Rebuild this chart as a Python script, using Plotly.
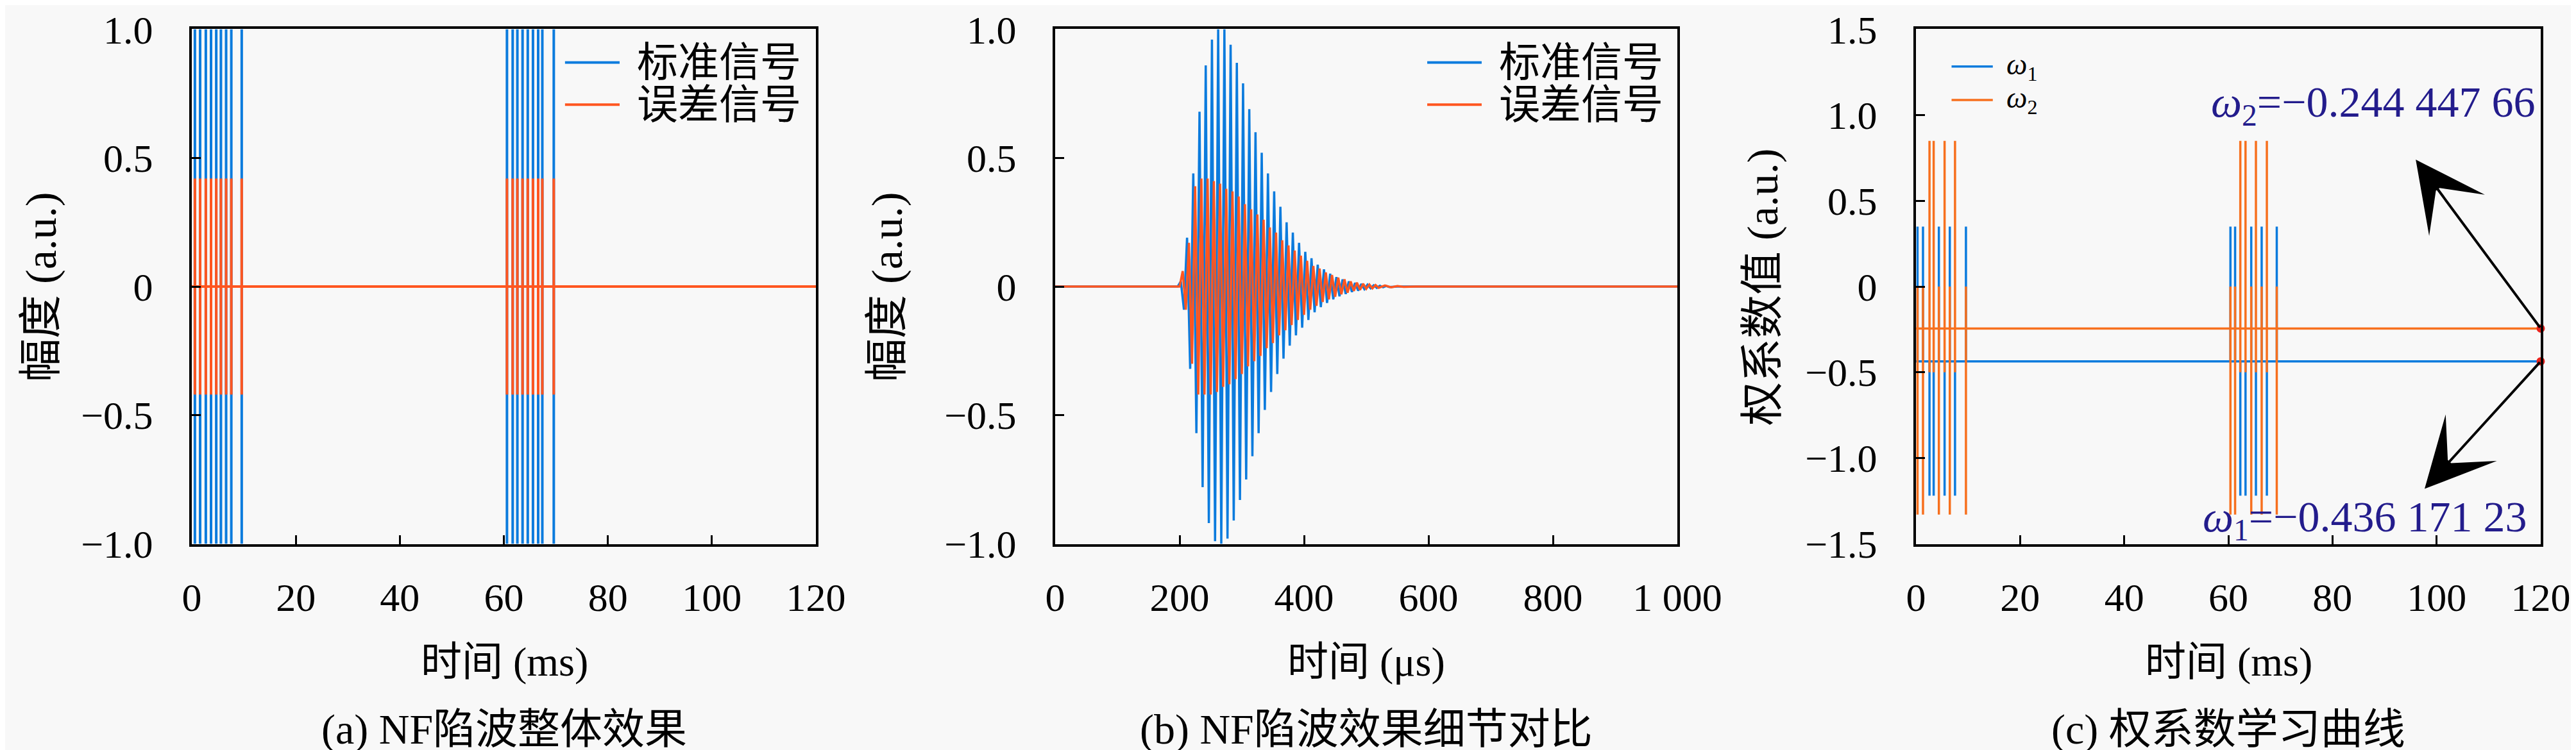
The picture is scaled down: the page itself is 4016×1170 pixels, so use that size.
import plotly.graph_objects as go

FONT = "'Liberation Serif', 'Noto Sans CJK SC', serif"
BLUE = "#0B7BDD"
ORANGE = "#FF5620"
ORANGE_C = "#F7701E"
NAVY = "#231C8C"
BG = "#F8F8F8"
W, H = 4016, 1170

# ---------------- (a) NF陷波整体效果: 回波时刻 (ms) 与幅值 ----------------
a_echo_times = [0.6, 1.6, 2.7, 3.7, 4.7, 5.6, 6.6, 7.6, 9.6,
                60.6, 61.7, 62.6, 63.6, 64.6, 65.6, 66.6, 67.4, 69.6]
a_std_amp = [1.0, 1.0, 1.0, 1.0, 1.0, 1.0, 1.0, 1.0, 1.0,
             1.0, 1.0, 1.0, 1.0, 1.0, 1.0, 1.0, 1.0, 1.0]
a_err_amp = [0.42, 0.42, 0.42, 0.42, 0.42, 0.42, 0.42, 0.42, 0.42,
             0.42, 0.42, 0.42, 0.42, 0.42, 0.42, 0.42, 0.42, 0.42]
a_t_end = 120

# ---------------- (b) 细节对比: 振荡极值点 (μs) ----------------
b_std_t = [0, 197, 202, 207, 212, 217, 222, 227, 232, 237, 242, 247, 252, 257,
           262, 267, 272, 277, 282, 287, 292, 297, 302, 307, 312, 317, 322, 327,
           332, 337, 342, 347, 352, 357, 362, 367, 372, 377, 382, 387, 392, 397,
           402, 407, 412, 417, 422, 427, 432, 437, 442, 447, 452, 457, 462, 467,
           472, 477, 482, 487, 492, 497, 502, 507, 512, 517, 522, 527, 532, 537,
           550, 1000]
b_std_v = [0, 0, 0.02, -0.09, 0.19, -0.32, 0.44, -0.57, 0.68, -0.78, 0.86, -0.92,
           0.96, -0.99, 1.00, -1.00, 1.00, -0.98, 0.94, -0.91, 0.87, -0.83, 0.79,
           -0.75, 0.69, -0.66, 0.60, -0.57, 0.52, -0.48, 0.44, -0.41, 0.37, -0.34,
           0.31, -0.28, 0.25, -0.23, 0.21, -0.19, 0.17, -0.16, 0.135, -0.13, 0.11,
           -0.10, 0.085, -0.08, 0.067, -0.064, 0.05, -0.05, 0.037, -0.038, 0.028,
           -0.029, 0.02, -0.021, 0.014, -0.016, 0.01, -0.01, 0.007, -0.007, 0.005,
           -0.005, 0.003, -0.003, 0.002, -0.002, 0, 0]
b_err_t = [0, 200, 205, 210, 215, 220, 225, 230, 235, 240, 245, 250, 255, 260,
           265, 270, 275, 280, 285, 290, 295, 300, 305, 310, 315, 320, 325, 330,
           335, 340, 345, 350, 355, 360, 365, 370, 375, 380, 385, 390, 395, 400,
           405, 410, 415, 420, 425, 430, 435, 440, 445, 450, 455, 460, 465, 470,
           475, 480, 485, 490, 495, 500, 505, 510, 515, 520, 530, 540, 550, 560,
           580, 1000]
b_err_v = [0, 0, 0.06, -0.09, 0.17, -0.30, 0.39, -0.42, 0.42, -0.42, 0.42, -0.42,
           0.41, -0.41, 0.40, -0.39, 0.38, -0.38, 0.37, -0.36, 0.35, -0.34, 0.32,
           -0.31, 0.30, -0.29, 0.28, -0.27, 0.26, -0.24, 0.23, -0.22, 0.21, -0.19,
           0.18, -0.17, 0.16, -0.15, 0.14, -0.13, 0.12, -0.11, 0.10, -0.09, 0.08,
           -0.075, 0.07, -0.06, 0.055, -0.05, 0.045, -0.04, 0.035, -0.03, 0.028,
           -0.024, 0.02, -0.017, 0.015, -0.013, 0.011, -0.009, 0.008, -0.007,
           0.006, -0.005, 0.004, -0.003, 0.002, -0.001, 0, 0]

# ---------------- (c) 权系数学习曲线 ----------------
c_event_t = [0.3, 1.35, 2.6, 3.4, 4.4, 5.5, 6.5, 7.5, 9.6,
             60.4, 61.3, 62.3, 63.3, 64.4, 65.3, 66.4, 67.4, 69.3]
c_w1_peak = [0.35, 0.35, -1.22, -1.22, 0.35, -1.22, 0.35, -1.22, 0.35,
             0.35, 0.35, -1.22, -1.22, 0.35, -1.22, 0.35, -1.22, 0.35]
c_w2_up = [0.0, 0.0, 0.85, 0.85, 0.0, 0.85, 0.0, 0.85, 0.0,
           0.0, 0.0, 0.85, 0.85, 0.0, 0.85, 0.0, 0.85, 0.0]
c_w2_down = [-1.33, -1.33, -0.50, -0.50, -1.33, -0.50, -1.33, -0.50, -1.33,
             -1.33, -1.33, -0.50, -0.50, -1.33, -0.50, -1.33, -0.50, -1.33]
w1_final = -0.43617123
w2_final = -0.24444766
c_t_end = 120


def echo_path(times, amps):
    xs, ys = [0], [0]
    for t, amp in zip(times, amps):
        xs += [t, t, t, t]
        ys += [0, amp, -amp, 0]
    xs.append(a_t_end)
    ys.append(0)
    return xs, ys


fig = go.Figure()

# (a)
xs, ys = echo_path(a_echo_times, a_std_amp)
fig.add_trace(go.Scatter(x=xs, y=ys, mode="lines", line=dict(color=BLUE, width=4),
                         xaxis="x", yaxis="y", showlegend=False))
xs, ys = echo_path(a_echo_times, a_err_amp)
fig.add_trace(go.Scatter(x=xs, y=ys, mode="lines", line=dict(color=ORANGE, width=4),
                         xaxis="x", yaxis="y", showlegend=False))

# (b)
fig.add_trace(go.Scatter(x=b_std_t, y=b_std_v, mode="lines", line=dict(color=BLUE, width=3.5),
                         xaxis="x2", yaxis="y2", showlegend=False))
fig.add_trace(go.Scatter(x=b_err_t, y=b_err_v, mode="lines", line=dict(color=ORANGE, width=3.5),
                         xaxis="x2", yaxis="y2", showlegend=False))

# (c)
w1x, w1y = [0], [w1_final]
w2x, w2y = [0], [w2_final]
for t, p, up, dn in zip(c_event_t, c_w1_peak, c_w2_up, c_w2_down):
    w1x += [t, t, t]
    w1y += [w1_final, p, w1_final]
    w2x += [t, t, t, t]
    w2y += [w2_final, up, dn, w2_final]
w1x.append(c_t_end)
w1y.append(w1_final)
w2x.append(c_t_end)
w2y.append(w2_final)
fig.add_trace(go.Scatter(x=w1x, y=w1y, mode="lines", line=dict(color=BLUE, width=3.5),
                         xaxis="x3", yaxis="y3", showlegend=False))
fig.add_trace(go.Scatter(x=w2x, y=w2y, mode="lines", line=dict(color=ORANGE_C, width=3.5),
                         xaxis="x3", yaxis="y3", showlegend=False))
fig.add_trace(go.Scatter(x=[c_t_end, c_t_end], y=[w2_final, w1_final], mode="markers",
                         marker=dict(color="#E8231E", size=13), cliponaxis=False,
                         xaxis="x3", yaxis="y3", showlegend=False))

# 坐标轴
ydom = [1 - 841 / H, 1 - 37 / H]
axis_common = dict(
    showline=True, linewidth=4, linecolor="black", mirror=True,
    ticks="inside", ticklen=14, tickwidth=3, tickcolor="black",
    showgrid=False, zeroline=False, ticklabeloverflow="allow", automargin=False,
    tickfont=dict(size=62, family=FONT, color="black"),
)
xa_ticks = [0, 20, 40, 60, 80, 100, 120]
xa_text = ["0", "20", "40", "60", "80", "100", "120"]
xb_ticks = [0, 200, 400, 600, 800, 1000]
xb_text = ["0", "200", "400", "600", "800", "1 000"]
yab_ticks = [-1.0, -0.5, 0, 0.5, 1.0]
yab_text = ["−1.0", "−0.5", "0", "0.5", "1.0"]
yc_ticks = [-1.5, -1.0, -0.5, 0, 0.5, 1.0, 1.5]
yc_text = ["−1.5", "−1.0", "−0.5", "0", "0.5", "1.0", "1.5"]

fig.update_layout(
    width=W, height=H,
    margin=dict(l=0, r=0, t=0, b=0, autoexpand=False),
    paper_bgcolor=BG, plot_bgcolor=BG,
    font=dict(family=FONT, size=60, color="black"),
    xaxis=dict(axis_common, domain=[291 / W, 1264 / W], range=[0, 120],
               tickvals=xa_ticks, ticktext=xa_text, anchor="y", ticklabelstandoff=26),
    yaxis=dict(axis_common, domain=ydom, range=[-1.002, 1.002],
               tickvals=yab_ticks, ticktext=yab_text, anchor="x", ticklabelstandoff=44),
    xaxis2=dict(axis_common, domain=[1637 / W, 2607 / W], range=[0, 1000],
                tickvals=xb_ticks, ticktext=xb_text, anchor="y2", ticklabelstandoff=26),
    yaxis2=dict(axis_common, domain=ydom, range=[-1.002, 1.002],
                tickvals=yab_ticks, ticktext=yab_text, anchor="x2", ticklabelstandoff=44),
    xaxis3=dict(axis_common, domain=[2979 / W, 3953 / W], range=[0, 120],
                tickvals=xa_ticks, ticktext=xa_text, anchor="y3", ticklabelstandoff=26),
    yaxis3=dict(axis_common, domain=ydom, range=[-1.503, 1.503],
                tickvals=yc_ticks, ticktext=yc_text, anchor="x3", ticklabelstandoff=44),
)

annotations = []
shapes = []

# 轴标题与子图标题
panel_info = [
    (778 / W, 56 / W, "时间 (ms)", "幅度 (a.u.)", "(a) NF陷波整体效果"),
    (2122 / W, 1375 / W, "时间 (μs)", "幅度 (a.u.)", "(b) NF陷波效果细节对比"),
    (3466 / W, 2740 / W, "时间 (ms)", "权系数值 (a.u.)", "(c) 权系数学习曲线"),
]
for xc, ytx, xt, yt, cap in panel_info:
    annotations.append(dict(xref="paper", yref="paper", x=xc, y=1 - 1024 / H, text=xt,
                            showarrow=False, font=dict(size=64), xanchor="center", yanchor="middle"))
    annotations.append(dict(xref="paper", yref="paper", x=ytx, y=1 - 440 / H, text=yt,
                            textangle=-90, showarrow=False, font=dict(size=68),
                            xanchor="center", yanchor="middle"))
    annotations.append(dict(xref="paper", yref="paper", x=xc, y=1 - 1130 / H, text=cap,
                            showarrow=False, font=dict(size=66), xanchor="center", yanchor="middle"))

# 图例 (a)(b)
for xr, yr in [("x", "y"), ("x2", "y2")]:
    for yy, col, name in [(0.9346, BLUE, "标准信号"), (0.853, ORANGE, "误差信号")]:
        shapes.append(dict(type="line", xref=f"{xr} domain", yref=f"{yr} domain",
                           x0=0.598, x1=0.6855, y0=yy, y1=yy, line=dict(color=col, width=4)))
        annotations.append(dict(xref=f"{xr} domain", yref=f"{yr} domain", x=0.711, y=yy,
                                text=name, showarrow=False, xanchor="left", yanchor="middle",
                                font=dict(size=64)))

# 图例 (c)
for yy, col, name in [(0.927, BLUE, "<i>ω</i><sub>1</sub>"), (0.862, ORANGE_C, "<i>ω</i><sub>2</sub>")]:
    shapes.append(dict(type="line", xref="x3 domain", yref="y3 domain",
                       x0=0.057, x1=0.123, y0=yy, y1=yy, line=dict(color=col, width=3.5)))
    annotations.append(dict(xref="x3 domain", yref="y3 domain", x=0.143, y=yy,
                            text=name, showarrow=False, xanchor="left", yanchor="middle",
                            font=dict(size=46)))

# 最终权值标注与箭头
annotations.append(dict(xref="x3", yref="y3", x=119.2, y=1.06, xanchor="right", yanchor="middle",
                        text="<i>ω</i><sub>2</sub>=−0.244 447 66", showarrow=False,
                        font=dict(size=68, color=NAVY)))
annotations.append(dict(xref="x3", yref="y3", x=117.6, y=-1.36, xanchor="right", yanchor="middle",
                        text="<i>ω</i><sub>1</sub>=−0.436 171 23", showarrow=False,
                        font=dict(size=68, color=NAVY)))
for hx, hy, ty in [(96, 0.74, w2_final), (97.7, -1.18, w1_final)]:
    annotations.append(dict(xref="x3", yref="y3", axref="x3", ayref="y3",
                            x=hx, y=hy, ax=c_t_end, ay=ty, text="", showarrow=True,
                            arrowhead=3, arrowsize=4.5, arrowwidth=4, arrowcolor="black",
                            standoff=0, startstandoff=0))

fig.update_layout(annotations=annotations, shapes=shapes)

fig.write_html("out.html")
